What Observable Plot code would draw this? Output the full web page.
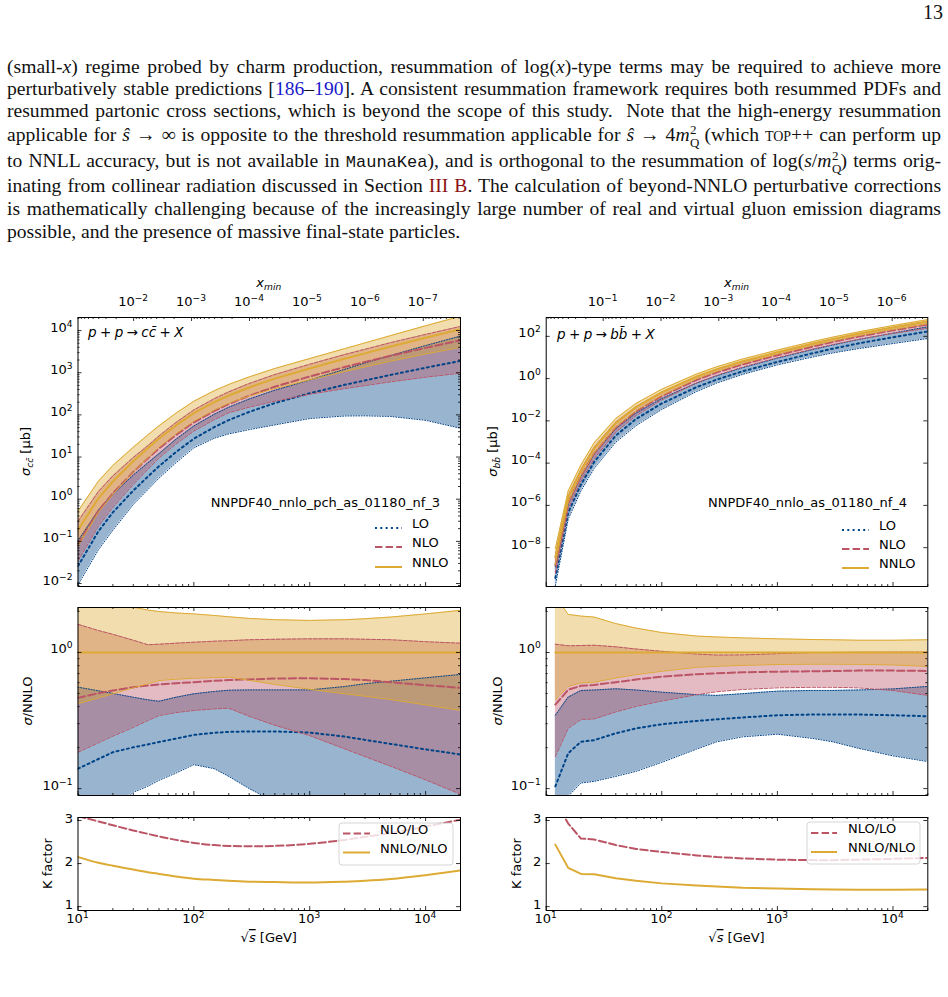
<!DOCTYPE html>
<html>
<head>
<meta charset="utf-8">
<script src="https://cdn.jsdelivr.net/npm/d3@7"></script>
<script src="https://cdn.jsdelivr.net/npm/@observablehq/plot@0.6"></script>
<style>
  html, body { margin: 0; padding: 0; background: #fff; }
  #page { position: relative; width: 948px; height: 997px; overflow: hidden; background: #fff; }
  .ln { position: absolute; left: 7px; width: 934px; height: 22px; line-height: 22px;
        font-family: "Liberation Serif", "Times New Roman", serif; font-size: 19.6px; color: #111;
        text-align: justify; text-align-last: justify; white-space: nowrap; }
  .ln.last { text-align: left; text-align-last: left; }
  .pg { position: absolute; right: 5px; top: 1px; font-family: "Liberation Serif", serif; font-size: 20px; color: #111; }
  .cite { color: #1a1acc; }
  .sec { color: #8b1010; }
  .tt { font-family: "Liberation Mono", "DejaVu Sans Mono", monospace; font-size: 17px; }
  .sc { font-variant: small-caps; }
  .ss { display: inline-block; position: relative; width: 9px; height: 18px; }
  .ss .sp, .ss .sb { position: absolute; left: 0.5px; font-size: 13px; line-height: 11px; }
  .ss .sp { top: 1px; }
  .ss .sb { top: 14px; }
</style>
</head>
<body>
<div id="page">
  <div class="pg">13</div>
  <div class="ln" style="top:56px">(small-<i>x</i>) regime probed by charm production, resummation of log(<i>x</i>)-type terms may be required to achieve more</div>
  <div class="ln" style="top:78px">perturbatively stable predictions [<span class="cite">186</span>–<span class="cite">190</span>]. A consistent resummation framework requires both resummed PDFs and</div>
  <div class="ln" style="top:100px">resummed partonic cross sections, which is beyond the scope of this study.&nbsp; Note that the high-energy resummation</div>
  <div class="ln" style="top:123px">applicable for <i>ŝ</i> → ∞ is opposite to the threshold resummation applicable for <i>ŝ</i> → 4<i>m</i><span class="ss"><span class="sp">2</span><span class="sb">Q</span></span> (which <span class="sc">top++</span> can perform up</div>
  <div class="ln" style="top:149px">to NNLL accuracy, but is not available in <span class="tt">MaunaKea</span>), and is orthogonal to the resummation of log(<i>s</i>/<i>m</i><span class="ss"><span class="sp">2</span><span class="sb">Q</span></span>) terms orig-</div>
  <div class="ln" style="top:175px">inating from collinear radiation discussed in Section <span class="sec">III B</span>. The calculation of beyond-NNLO perturbative corrections</div>
  <div class="ln" style="top:198px">is mathematically challenging because of the increasingly large number of real and virtual gluon emission diagrams</div>
  <div class="ln last" style="top:221px">possible, and the presence of massive final-state particles.</div>
</div>
<script>
// ---------- charm pair production, NNPDF40_nnlo_pch_as_01180_nf_3 ----------
const sqrtsC = [10, 15, 20, 30, 40, 50, 70, 100, 150, 200, 300, 500, 1000, 2000, 3000, 5000, 10000, 20000];
// NNLO central cross section [μb]
const nnloCentralC = [0.186, 1.05, 2.63, 7.94, 16.2, 27.5, 56.2, 110, 200, 288, 447, 724, 1260, 2140, 2880, 4170, 6760, 10700];
// scale-variation envelopes and central values, relative to the NNLO central value
const loLowC   = [0.05, 0.06, 0.07, 0.094, 0.104, 0.115, 0.13, 0.15, 0.14, 0.123, 0.10, 0.08, 0.065, 0.044, 0.033, 0.022, 0.011, 0.0045];
const loMidC   = [0.14, 0.165, 0.185, 0.201, 0.211, 0.22, 0.233, 0.248, 0.257, 0.261, 0.263, 0.263, 0.258, 0.241, 0.228, 0.213, 0.194, 0.178];
const loHighC  = [0.556, 0.523, 0.50, 0.469, 0.449, 0.438, 0.469, 0.497, 0.517, 0.528, 0.531, 0.531, 0.531, 0.562, 0.589, 0.615, 0.651, 0.69];
const nloLowC  = [0.185, 0.217, 0.243, 0.282, 0.316, 0.344, 0.362, 0.375, 0.385, 0.39, 0.34, 0.292, 0.245, 0.196, 0.172, 0.146, 0.116, 0.091];
const nloMidC  = [0.464, 0.502, 0.526, 0.556, 0.572, 0.582, 0.594, 0.605, 0.62, 0.627, 0.634, 0.644, 0.647, 0.638, 0.627, 0.605, 0.575, 0.55];
const nloHighC = [1.61, 1.45, 1.36, 1.23, 1.14, 1.15, 1.17, 1.19, 1.21, 1.22, 1.24, 1.25, 1.26, 1.26, 1.25, 1.24, 1.20, 1.17];
const nnloLowC = [0.42, 0.464, 0.497, 0.55, 0.589, 0.622, 0.636, 0.647, 0.653, 0.659, 0.625, 0.582, 0.537, 0.497, 0.477, 0.451, 0.412, 0.375];
const nnloHighC= [2.8, 2.55, 2.4, 2.15, 2.05, 2.0, 1.95, 1.92, 1.87, 1.83, 1.78, 1.74, 1.72, 1.74, 1.77, 1.82, 1.92, 2.04];
// K factors
const kNloLoC   = [3.10, 2.98, 2.89, 2.77, 2.69, 2.63, 2.55, 2.48, 2.43, 2.41, 2.40, 2.41, 2.46, 2.55, 2.62, 2.71, 2.86, 3.02];
const kNnloNloC = [2.15, 2.02, 1.95, 1.86, 1.80, 1.76, 1.70, 1.65, 1.62, 1.60, 1.58, 1.57, 1.56, 1.58, 1.60, 1.64, 1.73, 1.84];

// ---------- bottom pair production, NNPDF40_nnlo_as_01180_nf_4 ----------
const sqrtsB = [12, 15.5, 20, 26, 40, 60, 100, 200, 300, 500, 1000, 2000, 3000, 5000, 10000, 20000];
const nnloCentralB = [3.55e-9, 2.51e-6, 4.47e-5, 5.01e-4, 7.94e-3, 0.0447, 0.224, 1.26, 2.82, 6.61, 17.8, 44.7, 74.1, 132, 263, 501];
const loLowB   = [0.045, 0.088, 0.11, 0.113, 0.123, 0.134, 0.156, 0.195, 0.221, 0.24, 0.251, 0.234, 0.221, 0.198, 0.174, 0.158];
const loMidB   = [0.104, 0.182, 0.221, 0.227, 0.255, 0.277, 0.297, 0.314, 0.323, 0.333, 0.346, 0.35, 0.35, 0.35, 0.346, 0.34];
const loHighB  = [0.346, 0.47, 0.526, 0.53, 0.541, 0.53, 0.511, 0.49, 0.484, 0.498, 0.52, 0.526, 0.526, 0.53, 0.54, 0.563];
const nloLowB  = [0.172, 0.277, 0.322, 0.325, 0.366, 0.402, 0.44, 0.49, 0.515, 0.535, 0.55, 0.555, 0.555, 0.55, 0.526, 0.484];
const nloMidB  = [0.414, 0.532, 0.569, 0.578, 0.605, 0.633, 0.665, 0.692, 0.703, 0.715, 0.723, 0.727, 0.73, 0.736, 0.736, 0.732];
const nloHighB = [1.15, 1.12, 1.125, 1.13, 1.10, 1.06, 1.02, 0.973, 0.957, 0.96, 0.98, 1.0, 1.0, 1.003, 1.005, 1.005];
const nnloLowB = [0.45, 0.563, 0.598, 0.605, 0.65, 0.688, 0.727, 0.778, 0.791, 0.804, 0.816, 0.82, 0.82, 0.818, 0.81, 0.79];
const nnloHighB= [2.6, 1.905, 1.85, 1.82, 1.63, 1.51, 1.40, 1.32, 1.30, 1.28, 1.26, 1.245, 1.24, 1.23, 1.23, 1.24];
const kNloLoB   = [3.45, 2.93, 2.58, 2.56, 2.43, 2.34, 2.27, 2.19, 2.15, 2.12, 2.09, 2.08, 2.08, 2.09, 2.11, 2.13];
const kNnloNloB = [2.44, 1.90, 1.76, 1.75, 1.66, 1.60, 1.54, 1.49, 1.47, 1.44, 1.42, 1.405, 1.40, 1.39, 1.39, 1.40];

// quark masses [GeV] relating x_min = 4 m^2 / s to sqrt(s)
const massC = 1.51, massB = 4.92;
// tick decades
const sqrtsDecades = [1, 2, 3, 4];
const xminDecadesC = [-2, -3, -4, -5, -6, -7];
const xminDecadesB = [-1, -2, -3, -4, -5, -6];
const kTicks = [1, 2, 3];

const BLUE = "#004488", RED = "#BB5566", GOLD = "#DDAA33";
const FONT = "DejaVu Sans";
const page = document.getElementById("page");

const X_DOMAIN = [10, 20000];
const inDom = (arr, [a, b]) => (arr || []).filter(v => v >= a * 0.9999 && v <= b * 1.0001);
const minorLog = (dom, kFrom, kTo) => {
  const out = [];
  for (let k = kFrom; k <= kTo; k++) for (let j = 2; j <= 9; j++) out.push(j * Math.pow(10, k));
  return inDom(out, dom);
};
const decade = v => Math.round(Math.log10(v));
const xMajor = sqrtsDecades.map(k => Math.pow(10, k));
const xMinor = minorLog(X_DOMAIN, 1, 4);

// layout of the six panels (page pixels)
const COLS = [{svgLeft: 0, fx0: 77.5, fx1: 460}, {svgLeft: 474, fx0: 545.7, fx1: 927.3}];
const ROWS = {
  top: {svgTop: 270, svgH: 330, fy0: 317, fy1: 586},
  mid: {svgTop: 600, svgH: 205, fy0: 607, fy1: 795},
  bot: {svgTop: 805, svgH: 160, fy0: 817, fy1: 910}
};
function geom(col, row) {
  return {
    svgLeft: col.svgLeft, svgTop: row.svgTop, width: 474, height: row.svgH,
    marginLeft: col.fx0 - col.svgLeft, marginRight: col.svgLeft + 474 - col.fx1,
    marginTop: row.fy0 - row.svgTop, marginBottom: row.svgTop + row.svgH - row.fy1,
    fw: col.fx1 - col.fx0, fh: row.fy1 - row.fy0, fx0: col.fx0, fx1: col.fx1, fy0: row.fy0, fy1: row.fy1
  };
}

// inward tick marks on the four edges of the frame
function edgeTicks(g, {bottom, top, left, right}) {
  const st = {stroke: "#000", strokeWidth: 0.8};
  const m = [];
  const L = {major: 4, minor: 2};
  for (const kind of ["major", "minor"]) {
    if (bottom && bottom[kind]) m.push(Plot.tickX(bottom[kind], {x: d => d, insetTop: g.fh - L[kind], ...st}));
    if (top && top[kind]) m.push(Plot.tickX(top[kind], {x: d => d, insetBottom: g.fh - L[kind], ...st}));
    if (left && left[kind]) m.push(Plot.tickY(left[kind], {y: d => d, insetRight: g.fw - L[kind], ...st}));
    if (right && right[kind]) m.push(Plot.tickY(right[kind], {y: d => d, insetLeft: g.fw - L[kind], ...st}));
  }
  return m;
}

function render(g, options, marks) {
  const svg = Plot.plot({
    width: g.width, height: g.height,
    marginLeft: g.marginLeft, marginRight: g.marginRight, marginTop: g.marginTop, marginBottom: g.marginBottom,
    style: {fontFamily: FONT, fontSize: "13px", background: "transparent", overflow: "visible", color: "#000"},
    ...options,
    marks
  });
  svg.style.position = "absolute";
  svg.style.left = g.svgLeft + "px";
  svg.style.top = g.svgTop + "px";
  page.appendChild(svg);
  return svg;
}

// rich text (italics, sub/superscripts, overline) at svg coordinates
function richAt(svg, x, y, parts, {anchor = "start", rotate = 0, size = 13} = {}) {
  const t = d3.select(svg).append("text")
    .attr("transform", `translate(${x},${y}) rotate(${rotate})`)
    .attr("text-anchor", anchor)
    .attr("font-family", FONT).attr("font-size", size).attr("fill", "#000")
    .attr("dy", "0.35em");
  let shift = 0;
  for (const p of parts) {
    const o = typeof p === "string" ? {t: p} : p;
    const target = o.sub ? 3.2 : o.sup ? -5 : 0;
    const s = t.append("tspan").text(o.t).attr("dy", target - shift);
    shift = target;
    if (o.i) s.attr("font-style", "italic");
    if (o.sub || o.sup) s.attr("font-size", size * 0.7);
    if (o.over) s.attr("text-decoration", "overline");
  }
  return t;
}
// same, at page coordinates
const rich = (svg, g, px, py, parts, opts) => richAt(svg, px - g.svgLeft, py - g.svgTop, parts, opts);
const powParts = k => ["10", {t: String(k).replace("-", "\u2212"), sup: 1}];

// decade labels positioned through the plot's own scales
function yLogLabels(svg, g, values) {
  const y = svg.scale("y");
  for (const v of values) richAt(svg, g.fx0 - g.svgLeft - 5, y.apply(v) + 1.5, powParts(decade(v)), {anchor: "end"});
}
function xLogLabels(svg, g, values, yPage, kOf) {
  const x = svg.scale("x");
  for (const v of values) richAt(svg, x.apply(v), yPage - g.svgTop, powParts(kOf(v)), {anchor: "middle"});
}

const BANDS = [
  {key: "LO", color: BLUE, thin: "1,1.65", thick: "2,3.3"},
  {key: "NLO", color: RED, thin: "3.7,1.6", thick: "7.4,3.2"},
  {key: "NNLO", color: GOLD, thin: null, thick: null}
];

function buildRows(sqrts, central, r) {
  return sqrts.map((s, i) => ({
    s, c: central[i],
    LO_lo: r.loLow[i] * central[i], LO_mid: r.loMid[i] * central[i], LO_hi: r.loHigh[i] * central[i],
    NLO_lo: r.nloLow[i] * central[i], NLO_mid: r.nloMid[i] * central[i], NLO_hi: r.nloHigh[i] * central[i],
    NNLO_lo: r.nnloLow[i] * central[i], NNLO_mid: central[i], NNLO_hi: r.nnloHigh[i] * central[i]
  }));
}

function bandMarks(rows, acc) {
  const marks = [];
  for (const b of BANDS) {
    marks.push(Plot.areaY(rows, {x: "s", y1: d => acc(d, b.key + "_lo"), y2: d => acc(d, b.key + "_hi"),
      fill: b.color, fillOpacity: 0.4, clip: true}));
  }
  for (const b of BANDS) {
    for (const k of ["_lo", "_hi"]) {
      marks.push(Plot.lineY(rows, {x: "s", y: d => acc(d, b.key + k), stroke: b.color, strokeWidth: 1,
        strokeDasharray: b.thin, clip: true}));
    }
    marks.push(Plot.lineY(rows, {x: "s", y: d => acc(d, b.key + "_mid"), stroke: b.color, strokeWidth: 2,
      strokeDasharray: b.thick, clip: true}));
  }
  return marks;
}

// binary-operator spacing for the process labels
const SP = "\u2005";

function drawProcess(cfg) {
  const col = COLS[cfg.col];
  const rows = buildRows(cfg.sqrts, cfg.central, cfg.ratios);
  const xScale = {type: "log", domain: X_DOMAIN, axis: null};
  const cx = (col.fx0 + col.fx1) / 2;

  // top x axis: x_min = 4 m^2 / s
  const xminPos = x => 2 * cfg.mass / Math.sqrt(x);
  const topMajor = inDom(cfg.xminDecades.map(k => xminPos(Math.pow(10, k))), X_DOMAIN);
  const topMinorRaw = [];
  for (let k = -9; k <= 0; k++) for (let j = 2; j <= 9; j++) topMinorRaw.push(xminPos(j * Math.pow(10, k)));
  const topMinor = inDom(topMinorRaw, X_DOMAIN);
  const xminDecade = d => decade(4 * cfg.mass * cfg.mass / (d * d));

  // ---- absolute cross section ----
  {
    const g = geom(col, ROWS.top);
    const yd = cfg.topDomain;
    const yMajor = inDom(cfg.topMajor, yd);
    const yMinor = inDom(cfg.topMinor, yd);
    const svg = render(g, {x: xScale, y: {type: "log", domain: yd, axis: null}}, [
      ...bandMarks(rows, (d, k) => d[k]),
      Plot.frame({stroke: "#000", strokeWidth: 1}),
      ...edgeTicks(g, {
        bottom: {major: xMajor, minor: xMinor}, top: {major: topMajor, minor: topMinor},
        left: {major: yMajor, minor: yMinor}, right: {major: yMajor, minor: yMinor}
      })
    ]);
    xLogLabels(svg, g, topMajor, 306, xminDecade);
    yLogLabels(svg, g, yMajor);
    rich(svg, g, cx, 287, [{t: "x", i: 1}, {t: "min", i: 1, sub: 1}], {anchor: "middle"});
    rich(svg, g, cfg.ylabX.top, (g.fy0 + g.fy1) / 2, cfg.ylabel, {anchor: "middle", rotate: -90});
    rich(svg, g, cfg.procX, cfg.procY, cfg.proc, {size: 13.5});
    // legend
    const L = cfg.legend;
    rich(svg, g, L.titleEnd, L.titleY, [cfg.pdf], {anchor: "end"});
    const sel = d3.select(svg);
    BANDS.forEach((b, i) => {
      const y = L.ys[i] - g.svgTop;
      sel.append("line").attr("x1", L.x0 - g.svgLeft).attr("x2", L.x1 - g.svgLeft).attr("y1", y).attr("y2", y)
        .attr("stroke", b.color).attr("stroke-width", 2).attr("stroke-dasharray", b.thick);
      rich(svg, g, L.tx, L.ys[i], [b.key]);
    });
  }

  // ---- ratio to NNLO central ----
  {
    const g = geom(col, ROWS.mid);
    const yd = [0.089, 2.14];
    const yMajor = [0.1, 1];
    const yMinor = inDom([0.09, 0.2, 0.3, 0.4, 0.5, 0.6, 0.7, 0.8, 0.9, 2], yd);
    const svg = render(g, {x: xScale, y: {type: "log", domain: yd, axis: null}}, [
      ...bandMarks(rows, (d, k) => d[k] / d.c),
      Plot.frame({stroke: "#000", strokeWidth: 1}),
      ...edgeTicks(g, {
        bottom: {major: xMajor, minor: xMinor}, top: {major: xMajor, minor: xMinor},
        left: {major: yMajor, minor: yMinor}, right: {major: yMajor, minor: yMinor}
      })
    ]);
    yLogLabels(svg, g, yMajor);
    rich(svg, g, cfg.ylabX.mid, (g.fy0 + g.fy1) / 2, [{t: "σ", i: 1}, "/NNLO"], {anchor: "middle", rotate: -90});
  }

  // ---- K factors ----
  {
    const g = geom(col, ROWS.bot);
    const kRows = cfg.sqrts.map((s, i) => ({s, a: cfg.kNloLo[i], b: cfg.kNnloNlo[i]}));
    const svg = render(g, {x: xScale, y: {type: "linear", domain: [0.91, 3.07], axis: null}}, [
      Plot.lineY(kRows, {x: "s", y: "a", stroke: RED, strokeWidth: 2, strokeDasharray: "7.4,3.2", curve: cfg.kCurve, clip: true}),
      Plot.lineY(kRows, {x: "s", y: "b", stroke: GOLD, strokeWidth: 2, curve: cfg.kCurve, clip: true}),
      Plot.frame({stroke: "#000", strokeWidth: 1}),
      ...edgeTicks(g, {
        bottom: {major: xMajor, minor: xMinor}, top: {major: xMajor, minor: xMinor},
        left: {major: kTicks}, right: {major: kTicks}
      }),
      Plot.text(kTicks, {y: d => d, text: d => String(d), frameAnchor: "left", dx: -5, dy: -2, textAnchor: "end", fontSize: 13})
    ]);
    xLogLabels(svg, g, xMajor, 923, decade);
    rich(svg, g, cfg.ylabX.bot, (g.fy0 + g.fy1) / 2, ["K factor"], {anchor: "middle", rotate: -90});
    rich(svg, g, cx, 942, ["√", {t: "s", i: 1, over: 1}, " [GeV]"], {anchor: "middle"});
    // legend box
    const K = cfg.kLegend;
    const sel = d3.select(svg);
    sel.append("rect").attr("x", K.bx0 - g.svgLeft).attr("y", K.by0 - g.svgTop)
      .attr("width", K.bx1 - K.bx0).attr("height", K.by1 - K.by0).attr("rx", 3)
      .attr("fill", "#fff").attr("fill-opacity", 0.8).attr("stroke", "#cccccc").attr("stroke-width", 0.8);
    [[RED, "7.4,3.2", "NLO/LO"], [GOLD, null, "NNLO/NLO"]].forEach(([c, da, lab], i) => {
      const y = K.ys[i] - g.svgTop;
      sel.append("line").attr("x1", K.x0 - g.svgLeft).attr("x2", K.x1 - g.svgLeft).attr("y1", y).attr("y2", y)
        .attr("stroke", c).attr("stroke-width", 2).attr("stroke-dasharray", da);
      rich(svg, g, K.tx, K.ys[i], [lab]);
    });
  }
}

drawProcess({
  col: 0, sqrts: sqrtsC, central: nnloCentralC, mass: massC, xminDecades: xminDecadesC,
  ratios: {loLow: loLowC, loMid: loMidC, loHigh: loHighC, nloLow: nloLowC, nloMid: nloMidC, nloHigh: nloHighC,
           nnloLow: nnloLowC, nnloHigh: nnloHighC},
  kNloLo: kNloLoC, kNnloNlo: kNnloNloC, kCurve: "monotone-x",
  topDomain: [0.0085, 20400],
  topMajor: [1e-2, 1e-1, 1, 10, 100, 1e3, 1e4],
  topMinor: minorLog([0.0085, 20400], -3, 4),
  ylabel: [{t: "σ", i: 1}, {t: "cc\u0304", i: 1, sub: 1}, " [μb]"],
  ylabX: {top: 30, mid: 32, bot: 52},
  proc: [{t: "p", i: 1}, SP + "+" + SP, {t: "p", i: 1}, SP + "→" + SP, {t: "cc\u0304", i: 1}, SP + "+" + SP, {t: "X", i: 1}],
  procX: 88, procY: 337,
  pdf: "NNPDF40_nnlo_pch_as_01180_nf_3",
  legend: {titleEnd: 440, titleY: 507, x0: 375, x1: 402, tx: 412, ys: [528, 547, 567]},
  kLegend: {bx0: 339, bx1: 453, by0: 823, by1: 865, x0: 343, x1: 370, tx: 380, ys: [833.5, 852.5]}
});

drawProcess({
  col: 1, sqrts: sqrtsB, central: nnloCentralB, mass: massB, xminDecades: xminDecadesB,
  ratios: {loLow: loLowB, loMid: loMidB, loHigh: loHighB, nloLow: nloLowB, nloMid: nloMidB, nloHigh: nloHighB,
           nnloLow: nnloLowB, nnloHigh: nnloHighB},
  kNloLo: kNloLoB, kNnloNlo: kNnloNloB, kCurve: "linear",
  topDomain: [1.45e-10, 780],
  topMajor: [1e-8, 1e-6, 1e-4, 1e-2, 1, 100],
  topMinor: [],
  ylabel: [{t: "σ", i: 1}, {t: "bb\u0304", i: 1, sub: 1}, " [μb]"],
  ylabX: {top: 497, mid: 502, bot: 521},
  proc: [{t: "p", i: 1}, SP + "+" + SP, {t: "p", i: 1}, SP + "→" + SP, {t: "bb\u0304", i: 1}, SP + "+" + SP, {t: "X", i: 1}],
  procX: 557, procY: 339,
  pdf: "NNPDF40_nnlo_as_01180_nf_4",
  legend: {titleEnd: 907, titleY: 507, x0: 842, x1: 869, tx: 879, ys: [530, 549, 568]},
  kLegend: {bx0: 807, bx1: 920, by0: 822, by1: 864, x0: 811, x1: 837, tx: 848, ys: [833, 852]}
});
</script>
</body>
</html>
